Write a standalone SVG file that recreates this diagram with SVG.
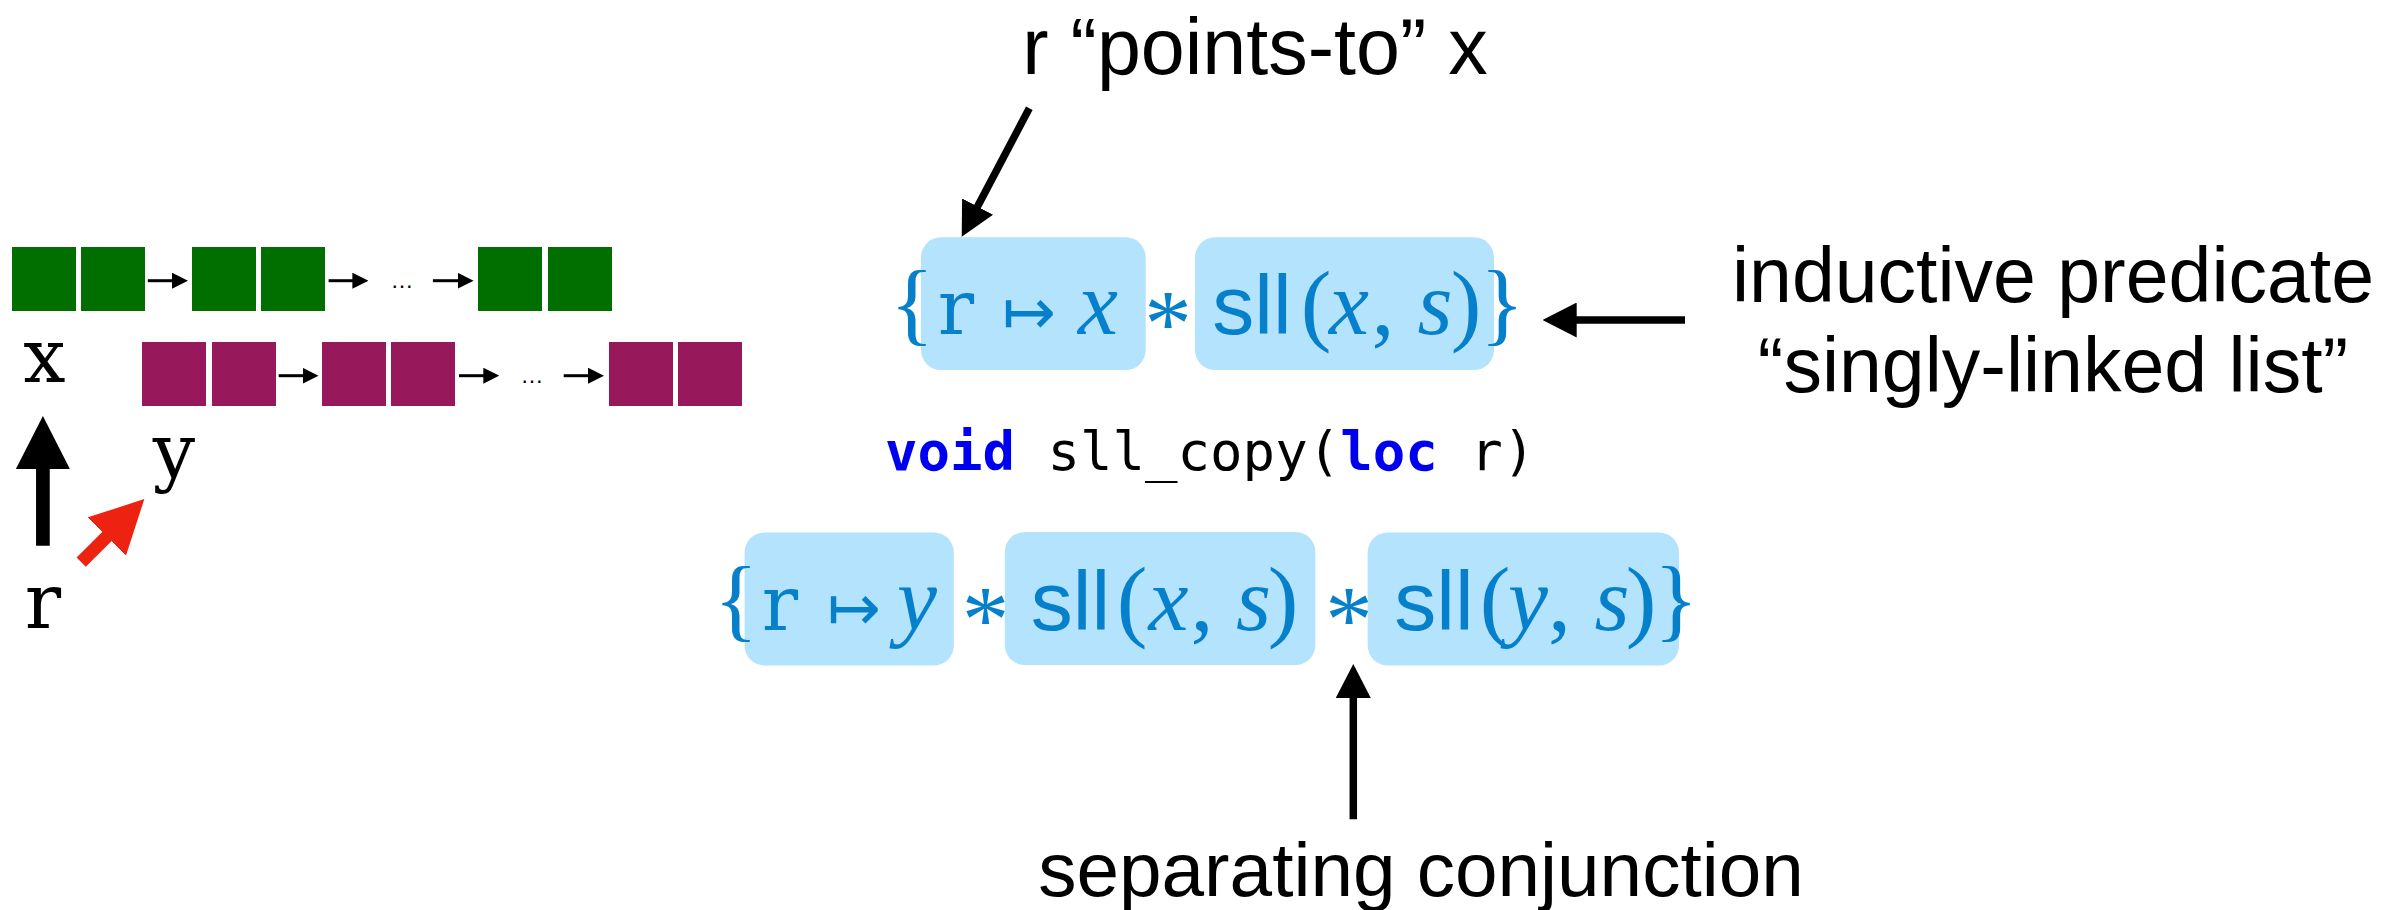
<svg xmlns="http://www.w3.org/2000/svg" width="2397" height="910" viewBox="0 0 2397 910">
<style>
  .g{fill:#006F00}
  .p{fill:#98185C}
  .mono{font-family:"DejaVu Serif","Liberation Serif",serif;fill:#000}
  .ann{font-family:"Liberation Sans",Arial,Helvetica,sans-serif;fill:#000}
  .box{fill:#B3E3FD}
  .f{fill:#0780CC}
  .fm{font-family:"DejaVu Serif","Liberation Serif",serif;font-size:76px}
  .fs{font-family:"Liberation Sans",Arial,sans-serif;font-size:84px}
  .fi{font-family:"Liberation Serif","Times New Roman",serif;font-style:italic;font-size:90px}
  .fr{font-family:"Liberation Serif","Times New Roman",serif;font-size:92px}
  .fa{font-family:"Liberation Serif","Times New Roman",serif;font-size:95px}
  .fmap{font-family:"DejaVu Sans",sans-serif;font-size:64px}
  .code{font-family:"DejaVu Sans Mono",monospace;font-size:54px;fill:#000}
  .kw{fill:#0000F0;font-weight:bold}
  .dots{font-family:"Liberation Sans",Arial,sans-serif;font-size:23px;fill:#000}
</style>
<defs>
  <marker id="sm" markerUnits="userSpaceOnUse" markerWidth="16" markerHeight="16" refX="2" refY="8" orient="auto"><path d="M0,0 L16,8 L0,16 z" fill="#000"/></marker>
  <marker id="med" markerUnits="userSpaceOnUse" markerWidth="34" markerHeight="35" refX="4" refY="17.5" orient="auto"><path d="M0,0 L34,17.5 L0,35 z" fill="#000"/></marker>
  <marker id="big" markerUnits="userSpaceOnUse" markerWidth="53" markerHeight="54" refX="6" refY="27" orient="auto"><path d="M0,0 L53,27 L0,54 z" fill="#000"/></marker>
  <marker id="bigred" markerUnits="userSpaceOnUse" markerWidth="53" markerHeight="54" refX="6" refY="27" orient="auto"><path d="M0,0 L53,27 L0,54 z" fill="#EE2210"/></marker>
</defs>
<rect width="2397" height="910" fill="#fff"/>

<g id="list-x">
  <rect class="g" x="12" y="247" width="64" height="64"/>
  <rect class="g" x="81" y="247" width="64" height="64"/>
  <rect class="g" x="192" y="247" width="64" height="64"/>
  <rect class="g" x="261" y="247" width="64" height="64"/>
  <text class="dots" x="402" y="288" text-anchor="middle">…</text>
  <rect class="g" x="478" y="247" width="64" height="64"/>
  <rect class="g" x="548" y="247" width="64" height="64"/>
</g>
<g id="list-y">
  <rect class="p" x="142" y="342" width="64" height="64"/>
  <rect class="p" x="212" y="342" width="64" height="64"/>
  <rect class="p" x="322" y="342" width="64" height="64"/>
  <rect class="p" x="391" y="342" width="64" height="64"/>
  <text class="dots" x="532" y="383" text-anchor="middle">…</text>
  <rect class="p" x="609" y="342" width="64" height="64"/>
  <rect class="p" x="678" y="342" width="64" height="64"/>
</g>
<g id="label-x"><text class="mono" x="44.5" y="381.7" font-size="75" text-anchor="middle">x</text></g>
<g id="label-y"><text class="mono" x="174" y="477" font-size="75" text-anchor="middle">y</text></g>
<g id="label-r"><text class="mono" x="43" y="628" font-size="76" text-anchor="middle">r</text></g>

<g id="precondition">
  <rect class="box" x="921" y="237.3" width="224.7" height="132.7" rx="20"/>
  <rect class="box" x="1195" y="237.3" width="299" height="132.7" rx="20"/>
  <g class="f" text-anchor="middle">
    <text class="fr" x="912" y="334">{</text>
    <text class="fm" x="956" y="334">r</text>
    <text class="fmap" x="1029" y="334">↦</text>
    <text class="fi" x="1098" y="334">x</text>
    <text class="fa" x="1168" y="356">*</text>
    <text class="fs" x="1252" y="334">sll</text>
    <text class="fr" x="1316" y="334">(</text>
    <text class="fi" x="1349" y="334">x</text>
    <text class="fr" x="1383" y="334">,</text>
    <text class="fi" x="1435" y="334">s</text>
    <text class="fr" x="1466" y="334">)</text>
    <text class="fr" x="1502" y="334">}</text>
  </g>
</g>

<g id="signature">
  <text class="code" x="885" y="470"><tspan class="kw">void</tspan> sll_copy(<tspan class="kw">loc</tspan> r)</text>
</g>

<g id="postcondition">
  <rect class="box" x="744.6" y="532.5" width="209.2" height="133" rx="20"/>
  <rect class="box" x="1004.8" y="532" width="310.6" height="133" rx="20"/>
  <rect class="box" x="1367.7" y="532.5" width="311.3" height="133" rx="20"/>
  <g class="f" text-anchor="middle">
    <text class="fr" x="736" y="630">{</text>
    <text class="fm" x="780" y="630">r</text>
    <text class="fmap" x="854" y="630">↦</text>
    <text class="fi" x="917" y="630">y</text>
    <text class="fa" x="985.5" y="652">*</text>
    <text class="fs" x="1070.5" y="630">sll</text>
    <text class="fr" x="1132" y="630">(</text>
    <text class="fi" x="1168.5" y="630">x</text>
    <text class="fr" x="1202" y="630">,</text>
    <text class="fi" x="1253.5" y="630">s</text>
    <text class="fr" x="1283" y="630">)</text>
    <text class="fa" x="1349" y="652">*</text>
    <text class="fs" x="1434" y="630">sll</text>
    <text class="fr" x="1495" y="630">(</text>
    <text class="fi" x="1528" y="630">y</text>
    <text class="fr" x="1559.5" y="630">,</text>
    <text class="fi" x="1612" y="630">s</text>
    <text class="fr" x="1641" y="630">)</text>
    <text class="fr" x="1676" y="630">}</text>
  </g>
</g>

<g id="note-points-to"><text class="ann" x="1255" y="74" font-size="79" text-anchor="middle">r “points-to” x</text></g>
<g id="note-inductive">
  <text class="ann" x="2053" y="301.7" font-size="77" text-anchor="middle">inductive predicate</text>
  <text class="ann" x="2053" y="391.7" font-size="77" text-anchor="middle">“singly-linked list”</text>
</g>
<g id="note-separating"><text class="ann" x="1421" y="896" font-size="76.5" text-anchor="middle">separating conjunction</text></g>

<g id="connectors" fill="none">
  <g stroke="#000" stroke-width="3" marker-end="url(#sm)">
    <line x1="147.8" y1="280.7" x2="174" y2="280.7"/>
    <line x1="328.6" y1="280.7" x2="354.4" y2="280.7"/>
    <line x1="432.9" y1="280.7" x2="459.6" y2="280.7"/>
    <line x1="278.7" y1="375.7" x2="304.5" y2="375.7"/>
    <line x1="459" y1="375.7" x2="485.3" y2="375.7"/>
    <line x1="563.7" y1="375.7" x2="590" y2="375.7"/>
  </g>
  <line x1="42.9" y1="545.7" x2="42.9" y2="463" stroke="#000" stroke-width="13.7" marker-end="url(#big)"/>
  <line x1="81.2" y1="562.2" x2="111.1" y2="532.3" stroke="#EE2210" stroke-width="13" marker-end="url(#bigred)"/>
  <g stroke="#000" stroke-width="7.5" marker-end="url(#med)">
    <line x1="1029.3" y1="108.3" x2="975.7" y2="210.1"/>
    <line x1="1685" y1="320" x2="1572.7" y2="320"/>
    <line x1="1353.3" y1="819.3" x2="1353.3" y2="694"/>
  </g>
</g>
</svg>
